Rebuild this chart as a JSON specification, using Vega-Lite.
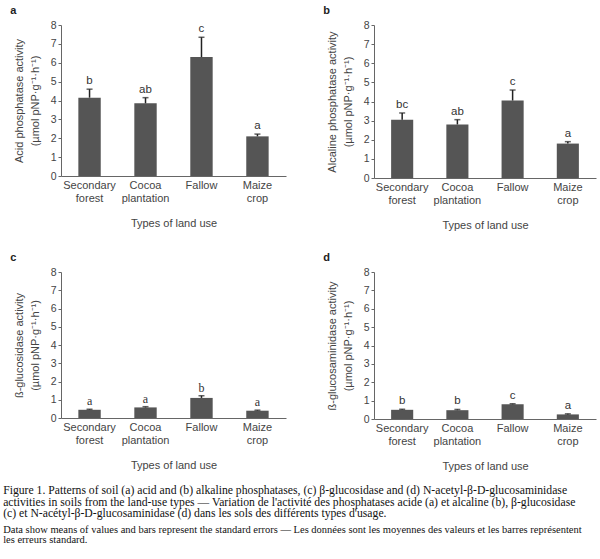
{
  "$schema": "https://vega.github.io/schema/vega-lite/v6.json",
  "background": "white",
  "padding": {"left": 3, "top": 5, "right": 5, "bottom": 5},
  "datasets": {
    "enz": [
      {"panel": "a", "use": "Secondary forest", "mean": 4.15, "upper": 4.6, "letter": "b"},
      {"panel": "a", "use": "Cocoa plantation", "mean": 3.85, "upper": 4.15, "letter": "ab"},
      {"panel": "a", "use": "Fallow", "mean": 6.3, "upper": 7.35, "letter": "c"},
      {"panel": "a", "use": "Maize crop", "mean": 2.1, "upper": 2.22, "letter": "a"},
      {"panel": "b", "use": "Secondary forest", "mean": 3.05, "upper": 3.4, "letter": "bc"},
      {"panel": "b", "use": "Cocoa plantation", "mean": 2.8, "upper": 3.05, "letter": "ab"},
      {"panel": "b", "use": "Fallow", "mean": 4.05, "upper": 4.6, "letter": "c"},
      {"panel": "b", "use": "Maize crop", "mean": 1.8, "upper": 1.9, "letter": "a"},
      {"panel": "c", "use": "Secondary forest", "mean": 0.45, "upper": 0.48, "letter": "a"},
      {"panel": "c", "use": "Cocoa plantation", "mean": 0.58, "upper": 0.62, "letter": "a"},
      {"panel": "c", "use": "Fallow", "mean": 1.1, "upper": 1.22, "letter": "b"},
      {"panel": "c", "use": "Maize crop", "mean": 0.4, "upper": 0.43, "letter": "a"},
      {"panel": "d", "use": "Secondary forest", "mean": 0.5, "upper": 0.53, "letter": "b"},
      {"panel": "d", "use": "Cocoa plantation", "mean": 0.48, "upper": 0.52, "letter": "b"},
      {"panel": "d", "use": "Fallow", "mean": 0.8, "upper": 0.83, "letter": "c"},
      {"panel": "d", "use": "Maize crop", "mean": 0.25, "upper": 0.28, "letter": "a"}
    ]
  },
  "title": {
    "text": [
      "Figure 1. Patterns of soil (a) acid and (b) alkaline phosphatases, (c) β-glucosidase and (d) N-acetyl-β-D-glucosaminidase",
      "activities in soils from the land-use types — Variation de l'activité des phosphatases acide (a) et alcaline (b), β-glucosidase",
      "(c) et N-acétyl-β-D-glucosaminidase (d) dans les sols des différents types d'usage."
    ],
    "subtitle": [
      "Data show means of values and bars represent the standard errors — Les données sont les moyennes des valeurs et les barres représentent",
      "les erreurs standard."
    ],
    "orient": "bottom",
    "anchor": "start",
    "frame": "bounds",
    "font": "Liberation Serif",
    "fontSize": 11.7,
    "fontWeight": "normal",
    "lineHeight": 11.5,
    "color": "#111",
    "subtitleFont": "Liberation Serif",
    "subtitleFontSize": 10.5,
    "subtitleLineHeight": 10.5,
    "subtitleColor": "#111",
    "subtitlePadding": 5,
    "offset": 14,
    "dx": -7
  },
  "concat": [
    {
      "data": {"name": "enz"},
      "transform": [{"filter": "datum.panel === 'a'"}],
      "width": 225, "height": 151,
      "title": {"text": "a"},
      "encoding": {
        "x": {"field": "use", "type": "nominal", "sort": ["Secondary forest", "Cocoa plantation", "Fallow", "Maize crop"], "scale": {"paddingInner": 0.6, "paddingOuter": 0.31}, "axis": {"title": "Types of land use", "labelExpr": "split(datum.label, ' ')"}}
      },
      "layer": [
        {"mark": {"type": "bar", "color": "#555555"}, "encoding": {"y": {"field": "mean", "type": "quantitative", "scale": {"domain": [0, 8]}, "axis": {"title": ["Acid phosphatase activity", "(µmol pNP·g⁻¹·h⁻¹)"], "values": [0,1,2,3,4,5,6,7,8], "labelOverlap": false}}}},
        {"mark": {"type": "rule", "color": "#222", "strokeWidth": 1.5}, "encoding": {"y": {"field": "mean", "type": "quantitative", "axis": {"title": ["Acid phosphatase activity", "(µmol pNP·g⁻¹·h⁻¹)"], "values": [0,1,2,3,4,5,6,7,8], "labelOverlap": false}}, "y2": {"field": "upper"}}},
        {"mark": {"type": "tick", "color": "#222", "thickness": 1.5, "size": 6}, "encoding": {"y": {"field": "upper", "type": "quantitative", "axis": {"title": ["Acid phosphatase activity", "(µmol pNP·g⁻¹·h⁻¹)"], "values": [0,1,2,3,4,5,6,7,8], "labelOverlap": false}}}},
        {"mark": {"type": "text", "dy": -8, "font": "Liberation Sans", "fontSize": 11.5, "color": "#333"}, "encoding": {"y": {"field": "upper", "type": "quantitative", "axis": {"title": ["Acid phosphatase activity", "(µmol pNP·g⁻¹·h⁻¹)"], "values": [0,1,2,3,4,5,6,7,8], "labelOverlap": false}}, "text": {"field": "letter"}}}
      ]
    },
    {
      "data": {"name": "enz"},
      "transform": [{"filter": "datum.panel === 'b'"}],
      "width": 222, "height": 153,
      "title": {"text": "b"},
      "encoding": {
        "x": {"field": "use", "type": "nominal", "sort": ["Secondary forest", "Cocoa plantation", "Fallow", "Maize crop"], "scale": {"paddingInner": 0.6, "paddingOuter": 0.31}, "axis": {"title": "Types of land use", "labelExpr": "split(datum.label, ' ')"}}
      },
      "layer": [
        {"mark": {"type": "bar", "color": "#555555"}, "encoding": {"y": {"field": "mean", "type": "quantitative", "scale": {"domain": [0, 8]}, "axis": {"title": ["Alcaline phosphatase activity", "(µmol pNP·g⁻¹·h⁻¹)"], "values": [0,1,2,3,4,5,6,7,8], "labelOverlap": false}}}},
        {"mark": {"type": "rule", "color": "#222", "strokeWidth": 1.5}, "encoding": {"y": {"field": "mean", "type": "quantitative", "axis": {"title": ["Alcaline phosphatase activity", "(µmol pNP·g⁻¹·h⁻¹)"], "values": [0,1,2,3,4,5,6,7,8], "labelOverlap": false}}, "y2": {"field": "upper"}}},
        {"mark": {"type": "tick", "color": "#222", "thickness": 1.5, "size": 6}, "encoding": {"y": {"field": "upper", "type": "quantitative", "axis": {"title": ["Alcaline phosphatase activity", "(µmol pNP·g⁻¹·h⁻¹)"], "values": [0,1,2,3,4,5,6,7,8], "labelOverlap": false}}}},
        {"mark": {"type": "text", "dy": -8, "font": "Liberation Sans", "fontSize": 11.5, "color": "#333"}, "encoding": {"y": {"field": "upper", "type": "quantitative", "axis": {"title": ["Alcaline phosphatase activity", "(µmol pNP·g⁻¹·h⁻¹)"], "values": [0,1,2,3,4,5,6,7,8], "labelOverlap": false}}, "text": {"field": "letter"}}}
      ]
    },
    {
      "data": {"name": "enz"},
      "transform": [{"filter": "datum.panel === 'c'"}],
      "width": 225, "height": 146,
      "title": {"text": "c"},
      "encoding": {
        "x": {"field": "use", "type": "nominal", "sort": ["Secondary forest", "Cocoa plantation", "Fallow", "Maize crop"], "scale": {"paddingInner": 0.6, "paddingOuter": 0.31}, "axis": {"title": "Types of land use", "labelExpr": "split(datum.label, ' ')"}}
      },
      "layer": [
        {"mark": {"type": "bar", "color": "#555555"}, "encoding": {"y": {"field": "mean", "type": "quantitative", "scale": {"domain": [0, 8]}, "axis": {"title": ["ß-glucosidase activity", "(µmol pNP·g⁻¹·h⁻¹)"], "values": [0,1,2,3,4,5,6,7,8], "labelOverlap": false}}}},
        {"mark": {"type": "rule", "color": "#222", "strokeWidth": 1.5}, "encoding": {"y": {"field": "mean", "type": "quantitative", "axis": {"title": ["ß-glucosidase activity", "(µmol pNP·g⁻¹·h⁻¹)"], "values": [0,1,2,3,4,5,6,7,8], "labelOverlap": false}}, "y2": {"field": "upper"}}},
        {"mark": {"type": "tick", "color": "#222", "thickness": 1.5, "size": 6}, "encoding": {"y": {"field": "upper", "type": "quantitative", "axis": {"title": ["ß-glucosidase activity", "(µmol pNP·g⁻¹·h⁻¹)"], "values": [0,1,2,3,4,5,6,7,8], "labelOverlap": false}}}},
        {"mark": {"type": "text", "dy": -8, "font": "Liberation Serif", "fontSize": 12, "color": "#333"}, "encoding": {"y": {"field": "upper", "type": "quantitative", "axis": {"title": ["ß-glucosidase activity", "(µmol pNP·g⁻¹·h⁻¹)"], "values": [0,1,2,3,4,5,6,7,8], "labelOverlap": false}}, "text": {"field": "letter"}}}
      ]
    },
    {
      "data": {"name": "enz"},
      "transform": [{"filter": "datum.panel === 'd'"}],
      "width": 222, "height": 147,
      "title": {"text": "d"},
      "encoding": {
        "x": {"field": "use", "type": "nominal", "sort": ["Secondary forest", "Cocoa plantation", "Fallow", "Maize crop"], "scale": {"paddingInner": 0.6, "paddingOuter": 0.31}, "axis": {"title": "Types of land use", "labelExpr": "split(datum.label, ' ')"}}
      },
      "layer": [
        {"mark": {"type": "bar", "color": "#555555"}, "encoding": {"y": {"field": "mean", "type": "quantitative", "scale": {"domain": [0, 8]}, "axis": {"title": ["ß-glucosaminidase activity", "(µmol pNP·g⁻¹·h⁻¹)"], "values": [0,1,2,3,4,5,6,7,8], "labelOverlap": false}}}},
        {"mark": {"type": "rule", "color": "#222", "strokeWidth": 1.5}, "encoding": {"y": {"field": "mean", "type": "quantitative", "axis": {"title": ["ß-glucosaminidase activity", "(µmol pNP·g⁻¹·h⁻¹)"], "values": [0,1,2,3,4,5,6,7,8], "labelOverlap": false}}, "y2": {"field": "upper"}}},
        {"mark": {"type": "tick", "color": "#222", "thickness": 1.5, "size": 6}, "encoding": {"y": {"field": "upper", "type": "quantitative", "axis": {"title": ["ß-glucosaminidase activity", "(µmol pNP·g⁻¹·h⁻¹)"], "values": [0,1,2,3,4,5,6,7,8], "labelOverlap": false}}}},
        {"mark": {"type": "text", "dy": -8, "font": "Liberation Sans", "fontSize": 11.5, "color": "#333"}, "encoding": {"y": {"field": "upper", "type": "quantitative", "axis": {"title": ["ß-glucosaminidase activity", "(µmol pNP·g⁻¹·h⁻¹)"], "values": [0,1,2,3,4,5,6,7,8], "labelOverlap": false}}, "text": {"field": "letter"}}}
      ]
    }
  ],
  "columns": 2,
  "spacing": {"row": 22, "column": 37},
  "config": {
    "view": {"stroke": null},
    "font": "Liberation Sans",
    "title": {"anchor": "start", "frame": "bounds", "font": "Liberation Sans", "fontSize": 11, "fontWeight": "bold", "color": "#222", "offset": 4, "dx": -3},
    "axis": {"grid": false, "domainColor": "#666", "tickColor": "#666", "labelColor": "#444", "titleColor": "#444", "labelFont": "Liberation Sans", "titleFont": "Liberation Sans", "titleFontWeight": "normal"},
    "axisX": {"ticks": false, "labelAngle": 0, "labelFontSize": 11, "labelLineHeight": 13, "labelPadding": 3, "titleFontSize": 11, "titlePadding": 14, "domainWidth": 1},
    "axisY": {"labelFontSize": 10.5, "labelOverlap": false, "labelFlush": false, "tickSize": 3, "labelPadding": 2, "titleFontSize": 11, "titleLineHeight": 16, "titlePadding": 10}
  }
}
